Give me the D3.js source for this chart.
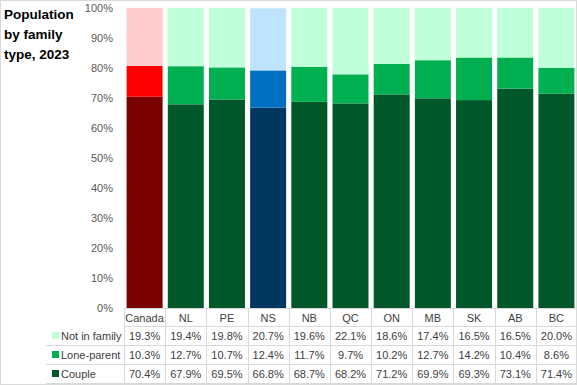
<!DOCTYPE html>
<html>
<head>
<meta charset="utf-8">
<script src="https://cdn.jsdelivr.net/npm/d3@7"></script>
<style>
  body { margin: 0; background: #fff; }
  svg text { font-family: "Liberation Sans", Arial, sans-serif; }
</style>
</head>
<body>
<div id="chart"></div>
<script>
// data
var regions = ["Canada", "NL", "PE", "NS", "NB", "QC", "ON", "MB", "SK", "AB", "BC"];
var couple = [70.4, 67.9, 69.5, 66.8, 68.7, 68.2, 71.2, 69.9, 69.3, 73.1, 71.4];
var loneParent = [10.3, 12.7, 10.7, 12.4, 11.7, 9.7, 10.2, 12.7, 14.2, 10.4, 8.6];
var notInFamily = [19.3, 19.4, 19.8, 20.7, 19.6, 22.1, 18.6, 17.4, 16.5, 16.5, 20.0];
var seriesNames = ["Not in family", "Lone-parent", "Couple"];
var yTicks = [0, 10, 20, 30, 40, 50, 60, 70, 80, 90, 100];

const width = 577, height = 385;
const margin = {top: 8, left: 124, right: 0};
const plotBottom = 308;

// colour per region per series
var colours = {
    Canada: {Couple: "#7a0000", "Lone-parent": "#ff0000", "Not in family": "#ffcccc"},
    NS: {Couple: "#003760", "Lone-parent": "#0070c0", "Not in family": "#bde3ff"},
    other: {Couple: "#00582a", "Lone-parent": "#00b050", "Not in family": "#bfffda"}
};
function colourFor(region, series) {
    return (colours[region] || colours.other)[series];
}

var svg = d3.select("#chart").append("svg")
    .attr("width", width)
    .attr("height", height);

var x_scale = d3.scaleBand()
    .domain(regions)
    .range([margin.left, width - margin.right])
    .paddingInner(0.126)
    .paddingOuter(0.063);

var y_scale = d3.scaleLinear()
    .domain([0, 100])
    .range([plotBottom, margin.top]);

// build stacked rows
var rows = regions.map(function (r, i) {
    return {region: r, "Couple": couple[i], "Lone-parent": loneParent[i], "Not in family": notInFamily[i]};
});
var stack = d3.stack().keys(["Couple", "Lone-parent", "Not in family"]);
var layers = stack(rows);

layers.forEach(function (layer) {
    svg.append("g").selectAll("rect")
        .data(layer)
        .enter()
        .append("rect")
        .attr("x", d => x_scale(d.data.region))
        .attr("width", x_scale.bandwidth())
        .attr("y", d => y_scale(d[1]))
        .attr("height", d => y_scale(d[0]) - y_scale(d[1]))
        .attr("fill", d => colourFor(d.data.region, layer.key));
});

// y axis labels
var y_axis = svg.append("g")
    .attr("transform", "translate(" + (margin.left - 11) + ",0)")
    .call(d3.axisLeft(y_scale).tickValues(yTicks).tickSize(0).tickFormat(d => d + "%"));
y_axis.select(".domain").remove();
y_axis.selectAll("text")
    .attr("x", 0)
    .style("font-size", "11px")
    .attr("fill", "#595959");

// title
svg.append("text")
    .attr("x", 4).attr("y", 19)
    .style("font-size", "13.5px").style("font-weight", "bold").attr("fill", "#000")
    .selectAll("tspan")
    .data(["Population", "by family", "type, 2023"])
    .enter().append("tspan")
    .attr("x", 4)
    .attr("dy", (d, i) => i === 0 ? 0 : 20)
    .text(d => d);

// data table
var grid = "#d9d9d9";
var step = x_scale.step();
var colStart = x_scale(regions[0]) - x_scale.paddingOuter() * step;
var rowY = [308, 327, 346, 365, 384];
var tableLeft = 46;

// horizontal lines
svg.append("line").attr("x1", colStart).attr("x2", width).attr("y1", plotBottom + 0.5).attr("y2", plotBottom + 0.5).attr("stroke", grid);
[1, 2, 3, 4].forEach(function (k) {
    svg.append("line")
        .attr("x1", k === 1 ? colStart : tableLeft).attr("x2", width)
        .attr("y1", rowY[k] - 0.5).attr("y2", rowY[k] - 0.5)
        .attr("stroke", grid);
});
// vertical lines
d3.range(regions.length + 1).forEach(function (i) {
    var xv = Math.round(colStart + i * step) + 0.5;
    svg.append("line").attr("x1", xv).attr("x2", xv)
        .attr("y1", plotBottom).attr("y2", rowY[4])
        .attr("stroke", grid);
});

// category labels
svg.append("g").selectAll("text")
    .data(regions)
    .enter().append("text")
    .attr("x", d => x_scale(d) + x_scale.bandwidth() / 2)
    .attr("y", 322)
    .attr("text-anchor", "middle")
    .style("font-size", "11px")
    .attr("fill", "#404040")
    .text(d => d);

var tableSeries = [notInFamily, loneParent, couple];
tableSeries.forEach(function (vals, k) {
    var yText = rowY[k + 1] + 13;
    var name = seriesNames[k];
    svg.append("rect")
        .attr("x", 52).attr("y", yText - 8)
        .attr("width", 7).attr("height", 7)
        .attr("fill", colourFor("NL", name));
    svg.append("text")
        .attr("x", 61).attr("y", yText)
        .style("font-size", "11px")
        .attr("fill", "#404040")
        .text(name);
    svg.append("g").selectAll("text")
        .data(vals)
        .enter().append("text")
        .attr("x", (d, i) => x_scale(regions[i]) + x_scale.bandwidth() / 2)
        .attr("y", yText)
        .attr("text-anchor", "middle")
        .style("font-size", "11px")
        .attr("fill", "#404040")
        .text(d => d.toFixed(1) + "%");
});

// outer border
svg.append("rect")
    .attr("x", 0.5).attr("y", 0.5)
    .attr("width", width - 1).attr("height", height - 1)
    .attr("fill", "none").attr("stroke", grid);
</script>
</body>
</html>
